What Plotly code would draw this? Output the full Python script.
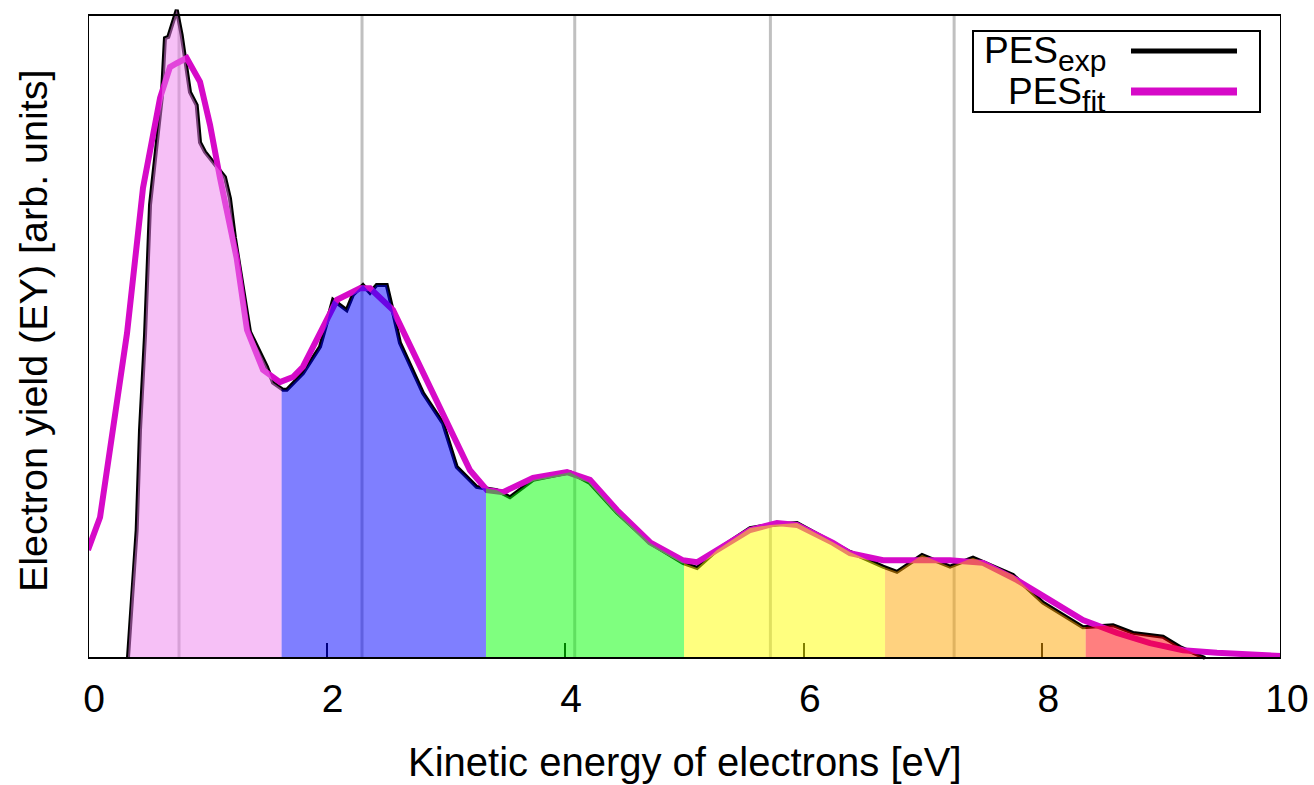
import numpy as np
import plotly.graph_objects as go

# Measured photoelectron spectrum (kinetic energy in eV, yield in arb. units)
exp_energy = [0.335, 0.366, 0.408, 0.436, 0.478, 0.520, 0.618, 0.645, 0.673, 0.744,
              0.785, 0.813, 0.855, 0.911, 0.939, 0.981, 1.148, 1.190, 1.232, 1.358,
              1.500, 1.551, 1.635, 1.666, 1.802, 1.945, 2.054, 2.168, 2.221, 2.305,
              2.364, 2.420, 2.504, 2.557, 2.615, 2.808, 2.976, 3.091, 3.258, 3.426,
              3.537, 3.730, 4.040, 4.208, 4.434, 4.711, 4.987, 5.105, 5.272, 5.549,
              5.717, 5.943, 6.245, 6.387, 6.664, 6.781, 6.991, 7.226, 7.418, 7.754,
              8.005, 8.340, 8.592, 8.759, 9.011, 9.153, 9.363]
exp_yield = [0.000, 0.095, 0.199, 0.355, 0.502, 0.705, 0.871, 0.964, 0.966, 1.008,
             0.969, 0.933, 0.880, 0.860, 0.802, 0.787, 0.748, 0.715, 0.653, 0.507,
             0.453, 0.428, 0.417, 0.417, 0.443, 0.484, 0.557, 0.541, 0.565, 0.580,
             0.568, 0.580, 0.580, 0.538, 0.490, 0.412, 0.365, 0.297, 0.266, 0.261,
             0.250, 0.277, 0.289, 0.272, 0.226, 0.179, 0.148, 0.140, 0.168, 0.202,
             0.207, 0.210, 0.180, 0.165, 0.142, 0.134, 0.160, 0.142, 0.156, 0.129,
             0.086, 0.048, 0.051, 0.039, 0.033, 0.017, 0.000]

# Fitted spectrum
fit_energy = [0.000, 0.101, 0.327, 0.461, 0.604, 0.687, 0.744, 0.827, 0.939, 1.023,
              1.106, 1.246, 1.333, 1.467, 1.609, 1.718, 1.802, 2.087, 2.280, 2.364,
              2.557, 2.783, 3.009, 3.202, 3.345, 3.479, 3.730, 4.015, 4.208, 4.434,
              4.711, 4.987, 5.105, 5.272, 5.549, 5.775, 5.943, 6.245, 6.387, 6.664,
              7.226, 7.502, 7.787, 8.064, 8.340, 8.625, 8.902, 9.179, 9.463, 10.000]
fit_yield = [0.168, 0.219, 0.505, 0.731, 0.871, 0.919, 0.925, 0.933, 0.896, 0.829,
             0.747, 0.622, 0.510, 0.448, 0.429, 0.437, 0.453, 0.557, 0.575, 0.575,
             0.541, 0.453, 0.365, 0.292, 0.261, 0.258, 0.280, 0.289, 0.277, 0.230,
             0.180, 0.152, 0.149, 0.168, 0.199, 0.210, 0.207, 0.179, 0.163, 0.152,
             0.152, 0.148, 0.121, 0.090, 0.059, 0.039, 0.023, 0.012, 0.008, 0.003]

# Peak positions (vertical guide lines) and energy windows for shading
peak_positions = [0.763, 2.297, 4.080, 5.720, 7.260]
window_edges = [1.623, 3.336, 4.996, 6.681, 8.363]
window_colors = ["rgba(238,130,238,0.5)", "rgba(0,0,255,0.5)", "rgba(0,255,0,0.5)",
                 "rgba(255,255,0,0.5)", "rgba(255,165,0,0.5)", "rgba(255,0,0,0.5)"]
x_ticks = [0, 2, 4, 6, 8, 10]

FONT = "Liberation Sans"
FIT_COLOR = "rgb(214,10,200)"

# page / plot-area geometry (pixels)
W, H = 1314, 785
L, R, T, B = 88, 1281, 5, 662
Y0_PX, Y1_PX = 658, 15           # pixel rows of yield 0 and 1
per_unit = (Y0_PX - Y1_PX)
y_min = -(B - Y0_PX) / per_unit
y_max = (Y0_PX - T) / per_unit


def px_x(px):
    return (px - L) / (R - L)


def px_y(py):
    return (B - py) / (B - T)


fig = go.Figure()

fig.add_trace(go.Scatter(x=exp_energy, y=exp_yield, mode="lines",
                         line=dict(color="black", width=4), showlegend=False))
fig.add_trace(go.Scatter(x=fit_energy, y=fit_yield, mode="lines",
                         line=dict(color=FIT_COLOR, width=6), showlegend=False))

# shaded energy windows under the measured curve
ex = np.array(exp_energy)
ey = np.array(exp_yield)
bounds = [ex[0]] + window_edges + [ex[-1]]
for i, col in enumerate(window_colors):
    a, b = bounds[i], bounds[i + 1]
    inside = (ex > a) & (ex < b)
    xs = np.concatenate([[a], ex[inside], [b]])
    ys = np.interp(xs, ex, ey)
    fig.add_trace(go.Scatter(x=xs, y=ys, mode="lines", fill="tozeroy",
                             fillcolor=col, line=dict(width=0),
                             showlegend=False, hoverinfo="skip"))

shapes = []
for p in peak_positions:
    shapes.append(dict(type="line", xref="x", yref="y", x0=p, x1=p, y0=0, y1=1,
                       line=dict(color="#c0c0c0", width=3), layer="below"))
# frame
shapes.append(dict(type="rect", xref="x", yref="y", x0=0, x1=10, y0=0, y1=1,
                   line=dict(color="black", width=2), layer="above"))

# key box with line samples
shapes.append(dict(type="rect", xref="paper", yref="paper",
                   x0=px_x(973), x1=px_x(1260), y0=px_y(112), y1=px_y(31),
                   line=dict(color="black", width=2), fillcolor="white", layer="above"))
shapes.append(dict(type="line", xref="paper", yref="paper",
                   x0=px_x(1131), x1=px_x(1237), y0=px_y(51), y1=px_y(51),
                   line=dict(color="black", width=5), layer="above"))
shapes.append(dict(type="line", xref="paper", yref="paper",
                   x0=px_x(1131), x1=px_x(1237), y0=px_y(91.5), y1=px_y(91.5),
                   line=dict(color=FIT_COLOR, width=8), layer="above"))

SUB = '<sub><span style="font-size:30px">{}</span></sub>'
annotations = [
    dict(text="PES" + SUB.format("exp"), xref="paper", yref="paper",
         x=px_x(1108), y=px_y(53), xanchor="right", yanchor="middle",
         showarrow=False, font=dict(family=FONT, size=37, color="black")),
    dict(text="PES" + SUB.format("fit"), xref="paper", yref="paper",
         x=px_x(1108), y=px_y(94), xanchor="right", yanchor="middle",
         showarrow=False, font=dict(family=FONT, size=37, color="black")),
    dict(text="Kinetic energy of electrons [eV]", xref="paper", yref="paper",
         x=px_x(685), y=px_y(762), xanchor="center", yanchor="middle",
         showarrow=False, font=dict(family=FONT, size=40, color="black")),
    dict(text="Electron yield (EY) [arb. units]", xref="paper", yref="paper",
         x=px_x(33), y=px_y(331), xanchor="center", yanchor="middle", textangle=-90,
         showarrow=False, font=dict(family=FONT, size=39.5, color="black")),
]

fig.update_layout(
    width=W, height=H,
    margin=dict(l=L, r=W - R, t=T, b=H - B, pad=0),
    paper_bgcolor="white", plot_bgcolor="white",
    showlegend=False,
    shapes=shapes, annotations=annotations,
    xaxis=dict(range=[0, 10], tickvals=x_ticks, ticktext=[str(t) for t in x_ticks],
               ticks="inside", ticklen=15, tickwidth=2, tickcolor="black",
               showline=False, showgrid=False, zeroline=False,
               anchor="free", position=(B - Y0_PX) / (B - T),
               layer="below traces", ticklabelshift=6, ticklabelstandoff=14,
               tickfont=dict(family=FONT, size=39, color="black")),
    yaxis=dict(range=[y_min, y_max], showticklabels=False, ticks="",
               showline=False, showgrid=False, zeroline=False),
)

fig.write_html("out.html")
